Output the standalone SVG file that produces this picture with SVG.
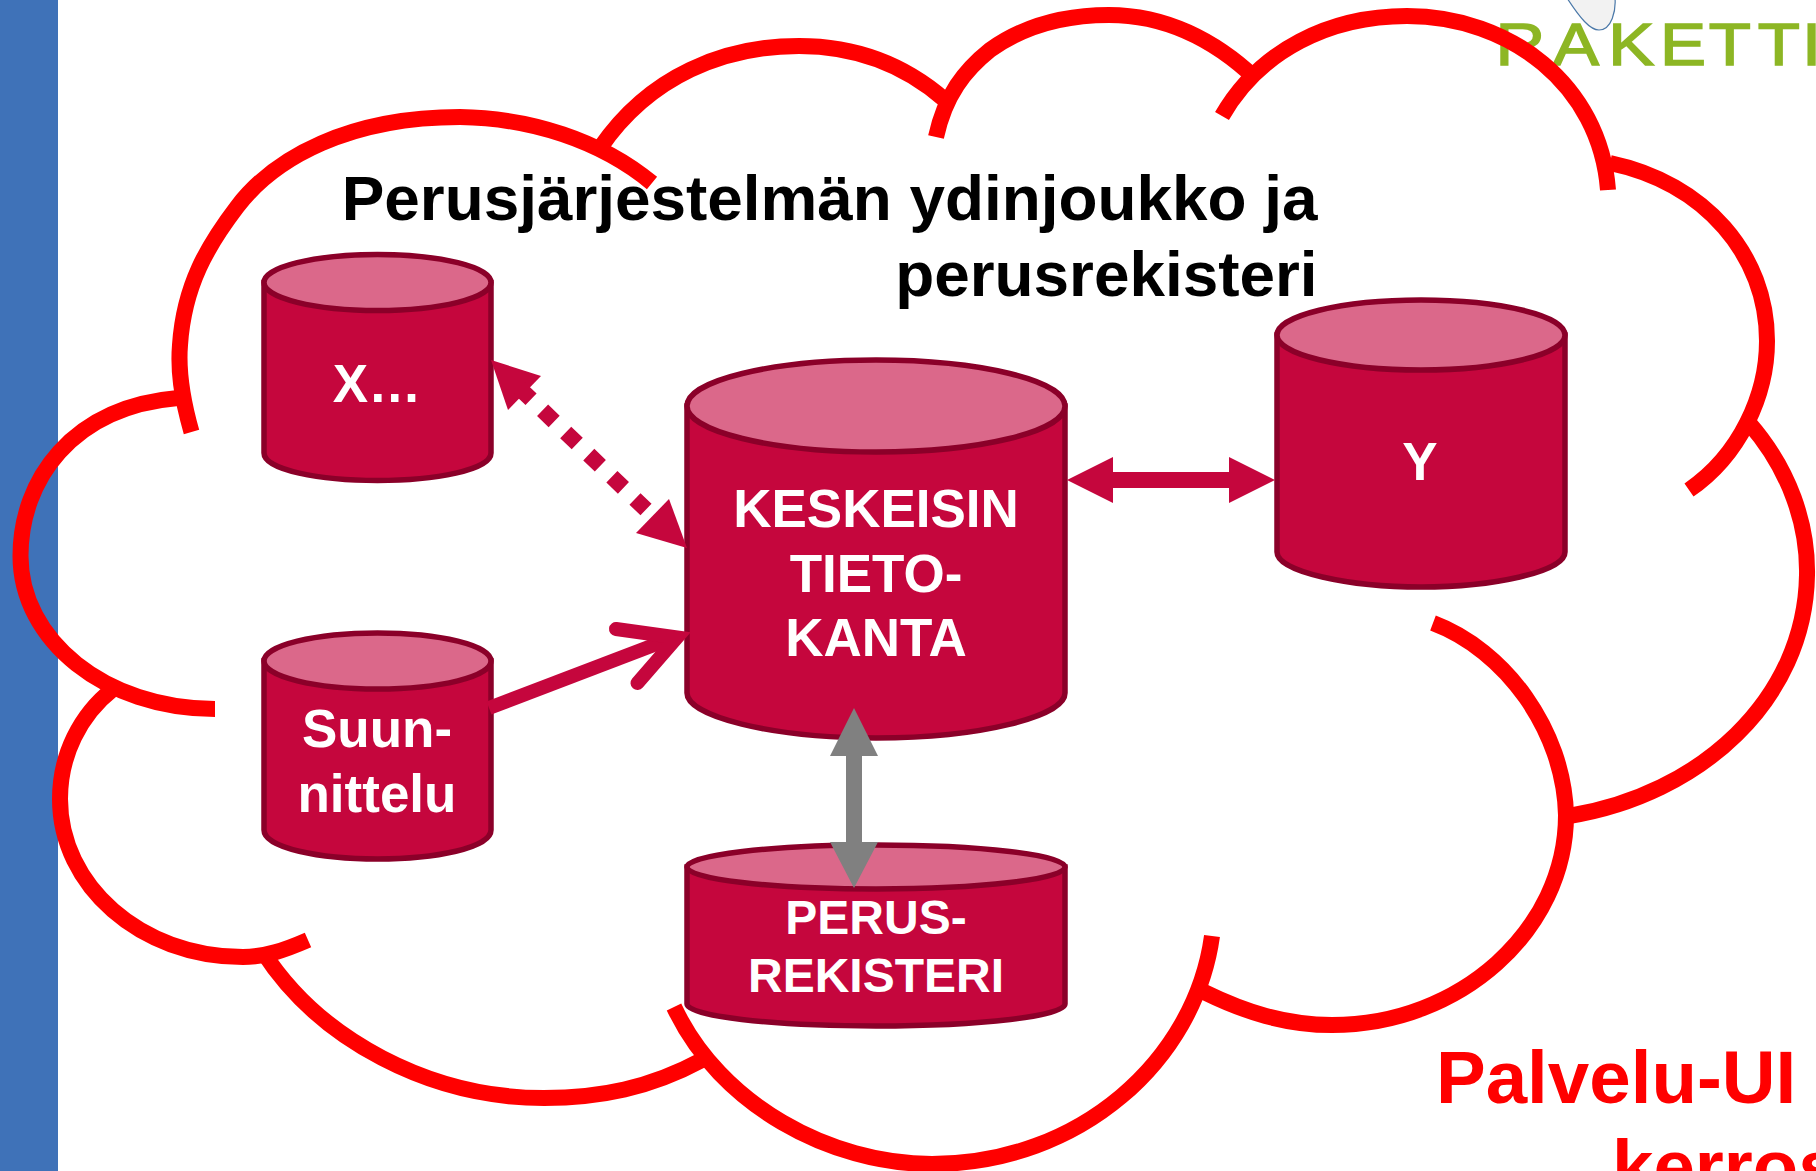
<svg xmlns="http://www.w3.org/2000/svg" width="1816" height="1171" viewBox="0 0 1816 1171">
<style>
text{font-family:"Liberation Sans",Arial,sans-serif;font-weight:700}
.lbl{fill:#fff;font-size:53px;text-anchor:middle}
.lbs{fill:#fff;font-size:48px;text-anchor:middle}
.body{fill:#c5063d;stroke:#8b0029;stroke-width:5.500}
.top{fill:#db688a;stroke:#8b0029;stroke-width:5.500}
.cloud{fill:none;stroke:#f00;stroke-width:16}
.big{font-size:63.850px;text-anchor:end;fill:#000}
.red{font-size:74.500px;fill:#f00}
</style>
<rect width="1816" height="1171" fill="#fff"/>
<rect id="side-bar" x="0" y="0" width="58" height="1171" fill="#3f72b8"/>
<g id="logo">
<path d="M1567,-2 C1580,18 1590,30 1599,30 C1612,30 1616,10 1615,-2 Z" fill="#f2f2f2" stroke="#4a78a8" stroke-width="1.200"/>
<text transform="translate(1495.500,65) scale(1.15,1)" x="0 50 98 143 185.500 228 266.500" font-size="60" fill="#8db624" stroke="#8db624" stroke-width="1.500" style="font-weight:400">RAKETTI</text>
</g>
<g id="cloud">
<path class="cloud" d="M191.500,432 C181,395 178,370 180,345 C184,285 208,245 237,207 C275,157 350,117 460,117 C530,118 600,140 652,183"/>
<path class="cloud" d="M600,148 C650,75 725,46 799,46 C855,46 905,65 945,100"/>
<path class="cloud" d="M936,137 C945,95 965,70 990,50 C1025,25 1065,15 1109,15 C1165,15 1215,40 1256,79"/>
<path class="cloud" d="M1222,116 C1260,50 1330,16 1407,16 C1510,16 1600,85 1608,190"/>
<path class="cloud" d="M1610,163 C1705,183 1767,255 1767,341 C1767,395 1740,455 1689,490"/>
<path class="cloud" d="M1749,423 C1790,470 1808,525 1807,575 C1805,700 1700,795 1569,816"/>
<path class="cloud" d="M1433,623 C1505,650 1564,730 1566,815 C1566,930 1460,1025 1332,1025 C1285,1025 1245,1012 1204,992"/>
<path class="cloud" d="M1212,936 C1195,1060 1080,1164 932,1164 C830,1164 720,1105 674,1007"/>
<path class="cloud" d="M702,1060 C650,1088 600,1098 544,1098 C430,1098 320,1040 263,952"/>
<path class="cloud" d="M308,940 C285,950 265,957 243,957 C140,957 60,885 60,799 C60,755 80,715 113,689"/>
<path class="cloud" d="M215,709 C105,709 20.500,640 20.500,556 C20.500,480 72,407 178,398"/>
</g>
<g id="title">
<text class="big" x="1317.500" y="220">Perusjärjestelmän ydinjoukko ja</text>
<text class="big" x="1317.500" y="296">perusrekisteri</text>
</g>
<g id="node-x">
<path class="body" d="M264,282.500 V453 C264,470 320,480.500 377.500,480.500 C435,480.500 491,470 491,453 V282.500 Z"/>
<ellipse class="top" cx="377.500" cy="282.500" rx="113.500" ry="28"/>
<text class="lbl" x="377" y="402">X…</text>
</g>
<g id="node-suunnittelu">
<path class="body" d="M264,661 V830 C264,848 320,859 377.500,859 C435,859 491,848 491,830 V661 Z"/>
<ellipse class="top" cx="377.500" cy="661" rx="113.500" ry="28"/>
<text class="lbl" x="377" y="747">Suun-</text>
<text class="lbl" x="377" y="812">nittelu</text>
</g>
<g id="node-keskeisin">
<path class="body" d="M687,406 V693 C687,716 770,738 876,738 C982,738 1065,716 1065,693 V406 Z"/>
<ellipse class="top" cx="876" cy="406" rx="189" ry="46"/>
<text class="lbl" x="876" y="527">KESKEISIN</text>
<text class="lbl" x="876" y="592">TIETO-</text>
<text class="lbl" x="876" y="656">KANTA</text>
</g>
<g id="node-y">
<path class="body" d="M1277,335 V552 C1277,572 1350,587 1421,587 C1492,587 1565,572 1565,552 V335 Z"/>
<ellipse class="top" cx="1421" cy="335" rx="144" ry="35"/>
<text class="lbl" x="1420" y="480">Y</text>
</g>
<g id="node-perusrekisteri">
<path class="body" d="M687,867 V1004 C687,1016 770,1026 876,1026 C982,1026 1065,1016 1065,1004 V867 Z"/>
<ellipse class="top" cx="876" cy="867" rx="189" ry="22"/>
<text class="lbs" x="876" y="934">PERUS-</text>
<text class="lbs" x="876" y="992">REKISTERI</text>
</g>
<g id="connectors">
<polygon points="491,360 541,376 508,410" fill="#c5063d"/>
<polygon points="687,548 636,533 669,499" fill="#c5063d"/>
<line x1="519.500" y1="388.200" x2="646" y2="509.500" stroke="#c5063d" stroke-width="16" stroke-dasharray="16 16"/>
<path d="M489,708 L675,637" fill="none" stroke="#c5063d" stroke-width="14"/>
<path d="M616,629 L677,637.500 L637.500,683" fill="none" stroke="#c5063d" stroke-width="14" stroke-linecap="round" stroke-linejoin="miter" stroke-miterlimit="10"/>
<polygon points="1067,480 1113,457 1113,472 1229,472 1229,457 1275,480 1229,503 1229,488 1113,488 1113,503" fill="#c5063d"/>
<polygon points="854,708 878,756 862,756 862,842 878,842 854,888 830,842 846,842 846,756 830,756" fill="#808080"/>
</g>
<g id="layer-label">
<text class="red" x="1436" y="1103">Palvelu-UI</text>
<text class="red" x="1612" y="1192">kerros</text>
</g>
</svg>
